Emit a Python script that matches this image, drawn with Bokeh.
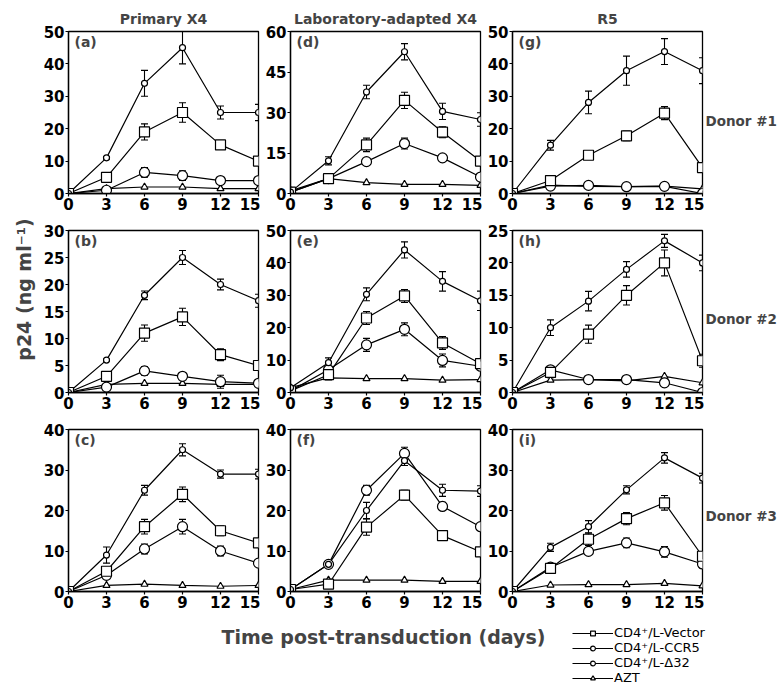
import math
from bokeh.plotting import figure
from bokeh.models import (Range1d, FixedTicker, ColumnDataSource, Whisker, TeeHead,
                          Label, Legend, LegendItem)
from bokeh.layouts import row, column
from bokeh.embed import file_html
from bokeh.resources import INLINE

# ---------------- data ----------------
days = [0, 3, 6, 9, 12, 15]
series_names = ["CD4\u207a/L-Vector", "CD4\u207a/L-CCR5", "CD4\u207a/L-\u039432", "AZT"]
col_titles = ["Primary X4", "Laboratory-adapted X4", "R5"]
donor_labels = ["Donor #1", "Donor #2", "Donor #3"]
x_label = "Time post-transduction (days)"
y_label = "p24 (ng ml\u207b\u00b9)"

# panel (a) Primary X4, donor 1
a_vec = [0, 5, 19, 25, 15, 10];          a_vec_err = [0, 0.5, 2.5, 3, 0.5, 0.5]
a_ccr5 = [0, 11, 34, 45, 25, 25];        a_ccr5_err = [0, 0.4, 4, 5, 2, 2.5]
a_d32 = [0, 1, 6.5, 5.5, 4, 4];          a_d32_err = [0, 0.3, 1.5, 1.5, 0.3, 0.3]
a_azt = [0, 1.5, 2, 2, 1.5, 1.5]
# panel (b) Primary X4, donor 2
b_vec = [0, 3, 11, 14, 7, 5];            b_vec_err = [0, 0.3, 1.5, 1.6, 1.1, 0.8]
b_ccr5 = [0, 6, 18, 25, 20, 17];         b_ccr5_err = [0, 0.2, 0.8, 1.3, 1.0, 1.2]
b_d32 = [0, 1, 4, 3, 2, 1.7];            b_d32_err = [0, 0.2, 0.8, 0.3, 1.2, 0.3]
b_azt = [0, 1.5, 1.7, 1.7, 1.5, 1.5]
# panel (c) Primary X4, donor 3
c_vec = [0, 5, 16, 24, 15, 12];          c_vec_err = [0, 1, 1.8, 1.8, 1.2, 0.5]
c_ccr5 = [0, 9, 25, 35, 29, 29];         c_ccr5_err = [0, 2, 1.2, 1.5, 1, 1.2]
c_d32 = [0, 4, 10.5, 16, 10, 7];         c_d32_err = [0, 0.5, 1.2, 1.8, 1.2, 0.3]
c_azt = [0, 1.5, 1.8, 1.5, 1.3, 1.5]
# panel (d) Lab-adapted X4, donor 1
d_vec = [0.5, 5.5, 18, 34.5, 22.7, 12];      d_vec_err = [0, 0.5, 2.5, 3, 2, 1]
d_ccr5 = [0.5, 12.1, 37.6, 52.5, 30.4, 27.4]; d_ccr5_err = [0, 1.5, 2.5, 3, 3, 2.5]
d_d32 = [0.5, 5.5, 11.8, 18.5, 13.2, 6.1];   d_d32_err = [0, 0.5, 1, 2, 0.5, 0.5]
d_azt = [1, 5.5, 4, 3.4, 3.4, 3]
# panel (e) Lab-adapted X4, donor 2
e_vec = [0.5, 5.5, 23, 29.8, 15.3, 8.9];     e_vec_err = [0, 0.5, 2, 2, 2, 1]
e_ccr5 = [1.5, 9.2, 30.3, 44, 34.3, 28.3];   e_ccr5_err = [0, 1.5, 2, 2.5, 3, 3]
e_d32 = [0.5, 7, 14.7, 19.5, 9.9, 8.1];      e_d32_err = [0, 0.5, 2, 2, 2, 0.5]
e_azt = [1.5, 4.5, 4.3, 4.3, 3.8, 4]
# panel (f) Lab-adapted X4, donor 3
f_vec = [0.5, 1.8, 15.9, 23.8, 13.8, 9.8];   f_vec_err = [0, 0.3, 2, 1.2, 1.2, 1]
f_ccr5 = [0.5, 6.7, 20, 32.3, 25, 24.8];     f_ccr5_err = [0, 0.3, 2, 1.2, 1.5, 1.3]
f_d32 = [0.5, 6.7, 25, 34.1, 21, 16];        f_d32_err = [0, 0.3, 1.2, 1.5, 1, 0.3]
f_azt = [0.5, 2.8, 2.8, 2.8, 2.5, 2.5]
# panel (g) R5, donor 1
g_vec = [0, 4, 11.8, 17.8, 24.8, 8];         g_vec_err = [0, 0.5, 0.5, 1.5, 2, 0.5]
g_ccr5 = [0, 14.9, 28.1, 37.9, 43.8, 37.9];  g_ccr5_err = [0, 1.5, 3.5, 4.5, 4, 4]
g_d32 = [0, 2.3, 2.5, 2.1, 2.2, 0];          g_d32_err = [0, 0.3, 0.3, 0.3, 0.3, 0]
g_azt = [0, 2.6, 2.2, 2.1, 2.3, 1.4]
# panel (h) R5, donor 2
h_vec = [0, 3.1, 9, 15, 20, 4.9];            h_vec_err = [0, 0.8, 1.4, 1.5, 2, 1]
h_ccr5 = [0, 10, 14.1, 19, 23.4, 20];        h_ccr5_err = [0, 1.2, 1.5, 1.2, 1, 1.2]
h_d32 = [0, 3.5, 2, 2, 1.5, 0];              h_d32_err = [0, 0.5, 0.2, 0.2, 0.2, 0]
h_azt = [0, 1.9, 2, 1.8, 2.5, 1.5]
# panel (i) R5, donor 3
i_vec = [0, 5.7, 12.9, 18, 21.9, 8.7];       i_vec_err = [0, 0.8, 1.5, 1.5, 1.8, 1]
i_ccr5 = [0, 10.9, 16, 25.1, 33, 28];        i_ccr5_err = [0, 1, 1.5, 1, 1.3, 1.2]
i_d32 = [0, 6, 9.9, 12, 9.8, 6.8];           i_d32_err = [0, 0.3, 0.5, 1.2, 1.3, 1]
i_azt = [0, 1.6, 1.7, 1.7, 2, 1.4]

y_max = {"a": 50, "b": 30, "c": 40, "d": 60, "e": 50, "f": 40, "g": 50, "h": 25, "i": 40}
y_step = {"a": 10, "b": 5, "c": 10, "d": 15, "e": 10, "f": 10, "g": 10, "h": 5, "i": 10}

panels = {
    "a": (a_vec, a_vec_err, a_ccr5, a_ccr5_err, a_d32, a_d32_err, a_azt),
    "b": (b_vec, b_vec_err, b_ccr5, b_ccr5_err, b_d32, b_d32_err, b_azt),
    "c": (c_vec, c_vec_err, c_ccr5, c_ccr5_err, c_d32, c_d32_err, c_azt),
    "d": (d_vec, d_vec_err, d_ccr5, d_ccr5_err, d_d32, d_d32_err, d_azt),
    "e": (e_vec, e_vec_err, e_ccr5, e_ccr5_err, e_d32, e_d32_err, e_azt),
    "f": (f_vec, f_vec_err, f_ccr5, f_ccr5_err, f_d32, f_d32_err, f_azt),
    "g": (g_vec, g_vec_err, g_ccr5, g_ccr5_err, g_d32, g_d32_err, g_azt),
    "h": (h_vec, h_vec_err, h_ccr5, h_ccr5_err, h_d32, h_d32_err, h_azt),
    "i": (i_vec, i_vec_err, i_ccr5, i_ccr5_err, i_d32, i_d32_err, i_azt),
}

# ---------------- styling / layout ----------------
FONT = "DejaVu Sans"
LW = 1.2
markers = {  # series -> (marker, size)
    "vec": ("square", 10),
    "ccr5": ("circle", 6),
    "d32": ("circle", 10),
    "azt": ("triangle", 7),
}

YLAB_W = 38
RIGHT_W = 76
FRAME_W, FRAME_H = 190, 162
col_borders = [(30, 2), (30, 2), (30, 2)]     # left, right
row_borders = [(31, 24), (13, 24), (13, 22)]  # top, bottom
donor_y = [120, 318, 515]                     # page y of donor labels
legend_bottoms = [47, 32, 17, 2]              # px from bottom strip's bottom


def make_panel(key, ci, ri):
    vec, vec_err, ccr5, ccr5_err, d32, d32_err, azt = panels[key]
    lb, rb = col_borders[ci]
    tb, bb = row_borders[ri]
    ym = y_max[key]
    p = figure(width=lb + FRAME_W + rb, height=tb + FRAME_H + bb,
               x_range=Range1d(0, 15), y_range=Range1d(0, ym),
               min_border_left=lb, min_border_right=rb,
               min_border_top=tb, min_border_bottom=bb,
               output_backend="svg", toolbar_location=None,
               background_fill_color="white", border_fill_color="white")
    p.grid.visible = False
    p.outline_line_color = "black"
    p.outline_line_width = 1.3
    p.xaxis.ticker = FixedTicker(ticks=days)
    p.yaxis.ticker = FixedTicker(ticks=list(range(0, ym + 1, y_step[key])))
    for ax in (p.xaxis[0], p.yaxis[0]):
        ax.axis_line_width = 1.3
        ax.major_tick_in = 0
        ax.major_tick_out = 3
        ax.major_tick_line_width = 1.2
        ax.minor_tick_line_color = None
        ax.major_label_standoff = 1
        ax.major_label_text_font = FONT
        ax.major_label_text_font_style = "bold"
        ax.major_label_text_font_size = "15px"
        ax.major_label_text_color = "black"

    if ri == 0:
        p.title.text = col_titles[ci]
        p.title.align = "center"
        p.title.text_font = FONT
        p.title.text_font_style = "bold"
        p.title.text_font_size = "14px"

    data = [("azt", azt, None), ("d32", d32, d32_err), ("vec", vec, vec_err), ("ccr5", ccr5, ccr5_err)]
    for name, ys, errs in data:
        if errs is not None:
            xs = [x for x, e in zip(days, errs) if e > 0]
            base = [y for y, e in zip(ys, errs) if e > 0]
            es = [e for e in errs if e > 0]
            src = ColumnDataSource(dict(x=xs, upper=[b + e for b, e in zip(base, es)],
                                        lower=[b - e for b, e in zip(base, es)]))
            w = Whisker(source=src, base="x", upper="upper", lower="lower",
                        line_color="black", line_width=1.1,
                        upper_head=TeeHead(size=7, line_color="black", line_width=1.1),
                        lower_head=TeeHead(size=7, line_color="black", line_width=1.1))
            p.add_layout(w)
        p.line(days, ys, line_color="black", line_width=LW)
    for name, ys, errs in data:
        m, s = markers[name]
        p.scatter(days, ys, marker=m, size=s, fill_color="white",
                  line_color="black", line_width=LW)

    tag = "(" + key + ")"
    p.add_layout(Label(x=0, y=ym, x_offset=6, y_offset=-2, text=tag,
                       text_baseline="top", text_align="left",
                       text_font=FONT, text_font_style="bold", text_font_size="14px"))
    return p


grid_keys = [["a", "d", "g"], ["b", "e", "h"], ["c", "f", "i"]]
rows = []
for ri, keys in enumerate(grid_keys):
    rows.append(row(*[make_panel(k, ci, ri) for ci, k in enumerate(keys)], spacing=0))
grid_h = sum(t + FRAME_H + b for t, b in row_borders)
grid_w = sum(l + FRAME_W + r for l, r in col_borders)
total_w = YLAB_W + grid_w + RIGHT_W


def blank(w, h):
    f = figure(width=w, height=h, x_range=Range1d(0, w), y_range=Range1d(0, h),
               x_axis_location=None, y_axis_location=None, min_border=0,
               output_backend="svg", toolbar_location=None, outline_line_color=None)
    f.grid.visible = False
    return f


# y-axis label strip (coordinates are page pixels, y flipped)
ylab = blank(YLAB_W, grid_h)
ylab.add_layout(Label(x=23, y=grid_h - 289, text=y_label, angle=math.pi / 2,
                      text_align="center", text_baseline="middle",
                      text_font=FONT, text_font_style="bold", text_font_size="19px"))

# right strip with donor labels
right = blank(RIGHT_W, grid_h)
for lab, yy in zip(donor_labels, donor_y):
    right.add_layout(Label(x=1, y=grid_h - yy, text=lab, text_align="left",
                           text_baseline="middle", text_font=FONT,
                           text_font_style="bold", text_font_size="13.5px"))

# bottom strip: x label + legend (one legend per row for tight spacing)
BOT_H = 74
bot = blank(total_w, BOT_H)
bot.add_layout(Label(x=383, y=BOT_H - 23, text=x_label, text_align="center",
                     text_baseline="middle", text_font=FONT, text_font_style="bold",
                     text_font_size="19px"))
for name, label, yb in zip(["vec", "ccr5", "d32", "azt"], series_names, legend_bottoms):
    m, s = markers[name]
    r1 = bot.line([-100, -90], [-100, -100], line_color="black", line_width=LW)
    r2 = bot.scatter([-100], [-100], marker=m, size=s, fill_color="white",
                     line_color="black", line_width=LW)
    leg = Legend(items=[LegendItem(label=label, renderers=[r1, r2])],
                 location=(572, yb), orientation="vertical",
                 glyph_width=41, glyph_height=12, label_height=12, spacing=0,
                 padding=0, margin=0, label_standoff=1, border_line_color=None,
                 background_fill_alpha=0, label_text_font=FONT,
                 label_text_font_size="13px", label_text_color="black")
    bot.add_layout(leg)

layout = column(row(ylab, column(*rows, spacing=0), right, spacing=0), bot, spacing=0)
open("out.html", "w").write(file_html(layout, INLINE))
